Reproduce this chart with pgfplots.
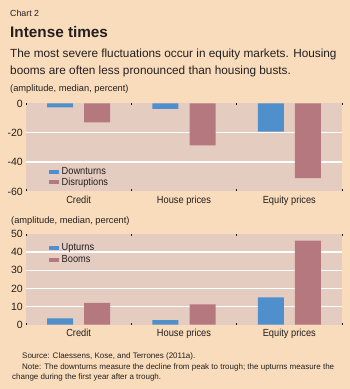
\documentclass[border=0pt]{standalone}
\usepackage{pgfplots}
\pgfplotsset{compat=1.18}
\usepackage{fontspec}
\setmainfont{Liberation Sans}
\newfontfamily\narrow{Liberation Sans}[FakeStretch=0.9]
\definecolor{pagebg}{HTML}{F9DCBB}
\definecolor{plotbg}{HTML}{E5CCC1}
\definecolor{blueC}{HTML}{4F8FCB}
\definecolor{roseC}{HTML}{B6787F}
\definecolor{txt}{HTML}{231F20}
\pgfplotsset{
  chartstyle/.style={
    scale only axis, width=316pt,
    xmin=-0.5, xmax=2.5,
    axis background/.style={fill=plotbg},
    axis line style={draw=none},
    xtick={0,1,2},
    xticklabels={Credit, House prices, Equity prices},
    minor xtick={-0.5,0.5,1.5,2.5},
    major x tick style={draw=none},
    minor x tick style={draw=txt, line width=0.6pt},
    minor tick length=2pt,
    tick align=inside,
    ytick style={draw=none},
    extra y tick labels={},
    extra y tick style={grid=major, major grid style={white, line width=1.3pt}},
    xticklabel style={font=\narrow\fontsize{10.3}{12}\selectfont, text=txt, anchor=base, inner sep=0pt},
    yticklabel style={font=\fontsize{10.5}{12}\selectfont, text=txt, anchor=east, inner sep=0pt, xshift=-3pt},
    legend style={draw=none, fill=none, font=\narrow\fontsize{10.3}{12}\selectfont, text=txt, inner sep=0pt, nodes={inner sep=1pt}},
    legend cell align=left,
    legend image code/.code={\fill[##1] (0pt,-2pt) rectangle (10pt,2pt); \path (11.5pt,0pt);},
    clip=false,
  }
}
\begin{document}
\begin{tikzpicture}
\fill[pagebg] (0pt,0pt) rectangle (350pt,-389pt);
\node[anchor=base west, inner sep=0pt, text=txt, font=\fontsize{8.8}{10}\selectfont] at (10pt,-16.7pt) {Chart 2};
\node[anchor=base west, inner sep=0pt, text=txt, font=\bfseries\fontsize{15.3}{17}\selectfont] at (10pt,-37.3pt) {Intense times};
\node[anchor=base west, inner sep=0pt, text=txt, font=\fontsize{11.8}{14}\selectfont] at (10pt,-57.3pt) {The most severe fluctuations occur in equity markets. Housing};
\node[anchor=base west, inner sep=0pt, text=txt, font=\fontsize{11.8}{14}\selectfont] at (10pt,-74pt) {booms are often less pronounced than housing busts.};
\node[anchor=base west, inner sep=0pt, text=txt, font=\fontsize{9.3}{10}\selectfont] at (10pt,-91.5pt) {(amplitude, median, percent)};
\node[anchor=base west, inner sep=0pt, text=txt, font=\fontsize{9.3}{10}\selectfont] at (11pt,-223pt) {(amplitude, median, percent)};
\node[anchor=base west, inner sep=0pt, text=txt, font=\fontsize{8}{9}\selectfont] at (22pt,-358.3pt) {Source: Claessens, Kose, and Terrones (2011a).};
\node[anchor=base west, inner sep=0pt, text=txt, font=\fontsize{8}{9}\selectfont] at (22pt,-369pt) {Note: The downturns measure the decline from peak to trough; the upturns measure the};
\node[anchor=base west, inner sep=0pt, text=txt, font=\fontsize{8}{9}\selectfont] at (12pt,-379.7pt) {change during the first year after a trough.};

\begin{axis}[chartstyle,
  at={(26pt,-103.4pt)}, anchor=north west, height=88pt,
  ymin=-60, ymax=0,
  ytick={-60,-40,-20,0}, yticklabels={-60,-40,-20,0},
  extra y ticks={-40,-20},
  xticklabel style={yshift=-12pt},
  legend style={at={(23pt,3.3pt)}, anchor=south west, row sep=0pt},
]
\addplot[ybar, bar width=26pt, bar shift=-18.5pt, fill=blueC, draw=none] coordinates {(0,-2.7) (1,-3.8) (2,-19.3)};
\addplot[ybar, bar width=26pt, bar shift=18.5pt, fill=roseC, draw=none] coordinates {(0,-12.9) (1,-28.6) (2,-51)};
\legend{Downturns, Disruptions}
\end{axis}

\begin{axis}[chartstyle,
  at={(26pt,-234pt)}, anchor=north west, height=90.7pt,
  ymin=0, ymax=50,
  ytick={0,10,20,30,40,50}, yticklabels={0,10,20,30,40,50},
  extra y ticks={10,20,30,40},
  xticklabel style={yshift=-11.3pt},
  legend style={at={(23pt,59.5pt)}, anchor=south west, row sep=1pt},
]
\addplot[ybar, bar width=26pt, bar shift=-18.5pt, fill=blueC, draw=none] coordinates {(0,3.5) (1,2.5) (2,15)};
\addplot[ybar, bar width=26pt, bar shift=18.5pt, fill=roseC, draw=none] coordinates {(0,12) (1,11.2) (2,46.3)};
\legend{Upturns, Booms}
\end{axis}
\end{tikzpicture}
\end{document}
